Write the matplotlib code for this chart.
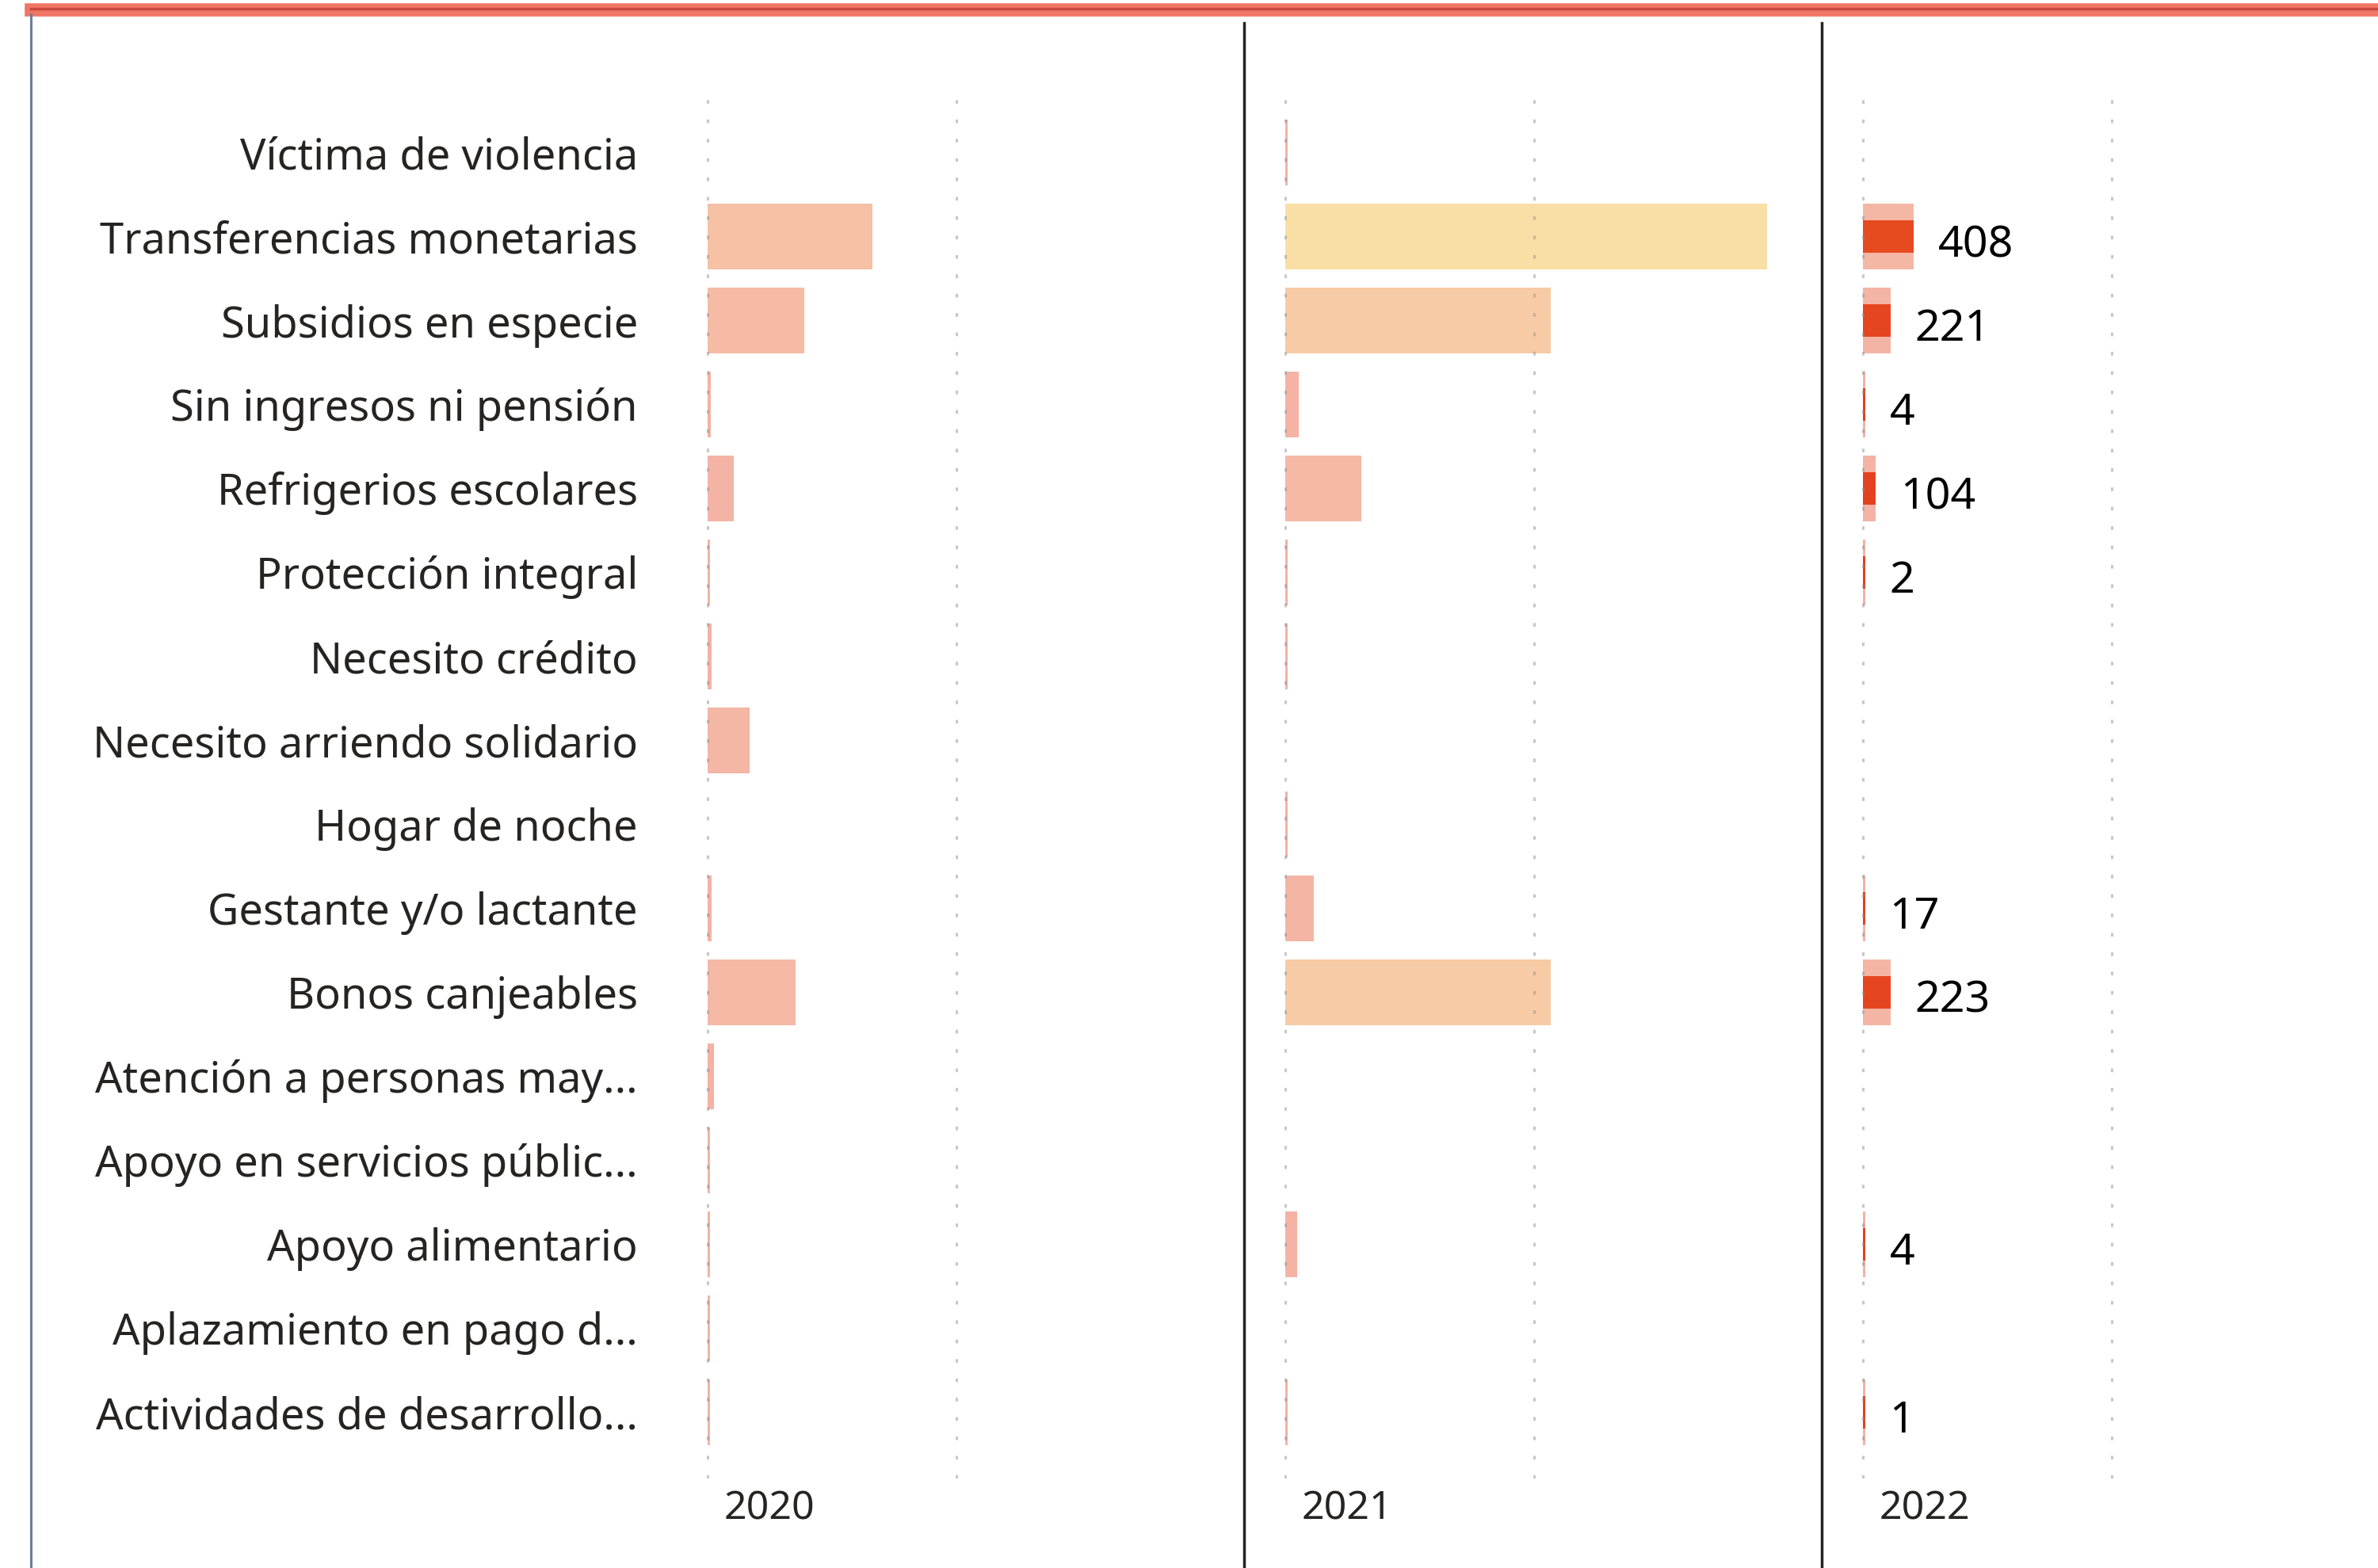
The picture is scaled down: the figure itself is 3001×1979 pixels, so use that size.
import matplotlib
matplotlib.use("Agg")
import matplotlib.pyplot as plt
import numpy as np
from matplotlib.colors import to_rgb
from matplotlib.lines import Line2D

plt.rcParams['font.family'] = ['Noto Sans', 'DejaVu Sans']

# data
categories = ["Víctima de violencia", "Transferencias monetarias", "Subsidios en especie",
              "Sin ingresos ni pensión", "Refrigerios escolares", "Protección integral",
              "Necesito crédito", "Necesito arriendo solidario", "Hogar de noche",
              "Gestante y/o lactante", "Bonos canjeables", "Atención a personas may...",
              "Apoyo en servicios públic...", "Apoyo alimentario", "Aplazamiento en pago d...",
              "Actividades de desarrollo..."]
years = ["2020", "2021", "2022"]
v2020 = [0, 1330, 780, 25, 210, 12, 35, 340, 0, 35, 710, 50, 12, 18, 12, 15]
v2021 = [15, 3880, 2135, 110, 610, 12, 8, 0, 15, 230, 2140, 0, 0, 95, 0, 15]
v2022 = [0, 408, 221, 4, 104, 2, 0, 0, 0, 17, 223, 0, 0, 4, 0, 1]
highlight = [False, False, True]  # 2022 panel has the highlighted (dark) bars + labels

red = np.array(to_rgb("#E43F1F"))
yellow = np.array(to_rgb("#F2B120"))
vmax = max(v2020 + v2021 + v2022)

def bar_color(v):
    t = v / vmax
    return tuple(red + t * (yellow - red))

W, H = 3001, 1979
fig = plt.figure(figsize=(W / 100, H / 100), dpi=100)

panel_left = [841, 1570, 2299]
panel_w = 729
top, bottom = 112, 1866
xmin, xmax = -331, 4318
min_w = 20  # minimum visible bar width (like power bi)

y = np.arange(len(categories))
axes = []
for i, (yr, vals) in enumerate(zip(years, [v2020, v2021, v2022])):
    ax = fig.add_axes([panel_left[i] / W, 1 - bottom / H, panel_w / W, (bottom - top) / H])
    axes.append(ax)
    ax.set_xlim(xmin, xmax)
    ax.set_ylim(len(categories) - 1 + 0.79, -0.76)

    for yi, v in zip(y, vals):
        if v <= 0:
            continue
        w = max(v, min_w)
        c = bar_color(v)
        ax.barh(yi, w, height=0.78, color=c, alpha=0.4, lw=0, zorder=2)
        if highlight[i]:
            ax.barh(yi, w, height=0.39, color=c, lw=0, zorder=2)
            ax.annotate(str(v), xy=(w, yi), xytext=(22, -8), textcoords="offset points",
                        ha="left", va="center", fontsize=40, color="black")

    for gx in [0, 2000]:
        ax.axvline(gx, color="#909090", alpha=0.5, lw=2.2, ls=(0, (1.5, 6.5)), zorder=3)

    ax.annotate(yr, xy=(0, 0), xycoords=("data", "axes fraction"), xytext=(15, -28),
                textcoords="offset points", ha="left", va="center", fontsize=36, color="#252423")

    for s in ax.spines.values():
        s.set_visible(False)
    ax.set_xticks([])
    if i == 0:
        ax.set_yticks(y)
        ax.set_yticklabels(categories, fontsize=39, color="#252423")
        ax.tick_params(axis="y", length=0, pad=26)
    else:
        ax.set_yticks([])
        # black separator between panels
        fig.add_artist(Line2D([panel_left[i] / W] * 2, [0, 1 - 29 / H],
                              transform=fig.transFigure, color="#252423", lw=2.5))

# frame bits: red top border and blue-gray left border
fig.add_artist(Line2D([39 / W, 1], [1 - 12 / H] * 2, transform=fig.transFigure,
                      color="#F07565", lw=12))
fig.add_artist(Line2D([39 / W, 1], [1 - 11 / H] * 2, transform=fig.transFigure,
                      color="#C9473D", lw=2.5))
fig.add_artist(Line2D([39 / W] * 2, [0, 1 - 18 / H], transform=fig.transFigure,
                      color="#6C7D99", lw=2.2))

fig.savefig("out.png", dpi=100)
